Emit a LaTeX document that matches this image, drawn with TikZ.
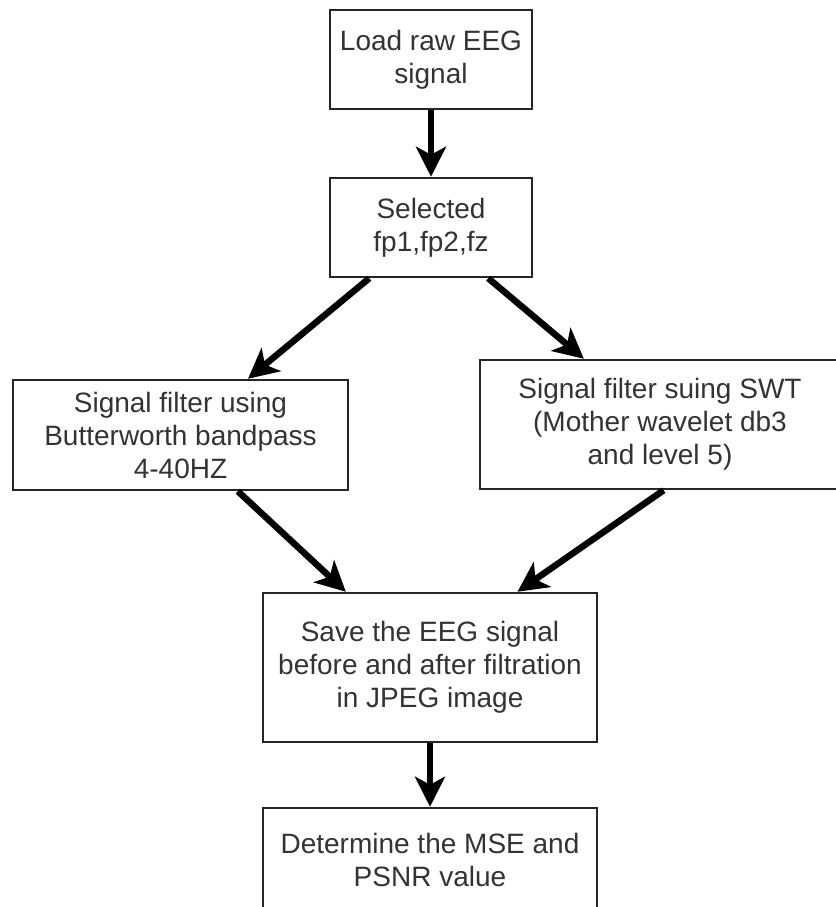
\documentclass[tikz,border=0pt]{standalone}
\usepackage{fontspec}
\setmainfont{Liberation Sans}
\usetikzlibrary{arrows.meta,calc}
\begin{document}
\begin{tikzpicture}[x=1pt,y=-1pt,
  box/.style={draw=black!85, line width=2.5pt, align=center, text=black!80,
    font=\fontsize{28}{33}\selectfont, inner sep=0pt},
  flow/.style={line width=6.5pt, -{Stealth[length=30pt,width=30pt,inset=8pt]}}]
\useasboundingbox (0,0) rectangle (835,907);
\node[box, minimum width=202pt, minimum height=99pt] (b1) at (431,59.5) {Load raw EEG\\signal};
\node[box, minimum width=202pt, minimum height=99pt] (b2) at (431,227.5) {Selected\\fp1,fp2,fz};
\node[box, minimum width=335pt, minimum height=110pt] (b3) at (180.5,435) {Signal filter using\\Butterworth bandpass\\4-40HZ};
\node[box, minimum width=360pt, minimum height=129pt] (b4) at (660,424.5) {Signal filter suing SWT\\(Mother wavelet db3\\and level 5)};
\node[box, minimum width=334pt, minimum height=149pt] (b5) at (430,667.5) {Save the EEG signal\\before and after filtration\\in JPEG image};
\node[box, minimum width=334pt, minimum height=104pt] (b6) at (430,860) {Determine the MSE and\\PSNR value};
\draw[flow] (b1.south) -- (b2.north);
\draw[flow] ($(b2.south west)!0.198!(b2.south east)$) -- ($(b3.north west)!0.70!(b3.north east)$);
\draw[flow] ($(b2.south west)!0.78!(b2.south east)$) -- ($(b4.north west)!0.29!(b4.north east)$);
\draw[flow] ($(b3.south west)!0.67!(b3.south east)$) -- ($(b5.north west)!0.25!(b5.north east)$);
\draw[flow] ($(b4.south west)!0.51!(b4.south east)$) -- ($(b5.north west)!0.76!(b5.north east)$);
\draw[flow] (b5.south) -- (b6.north);
\end{tikzpicture}
\end{document}
